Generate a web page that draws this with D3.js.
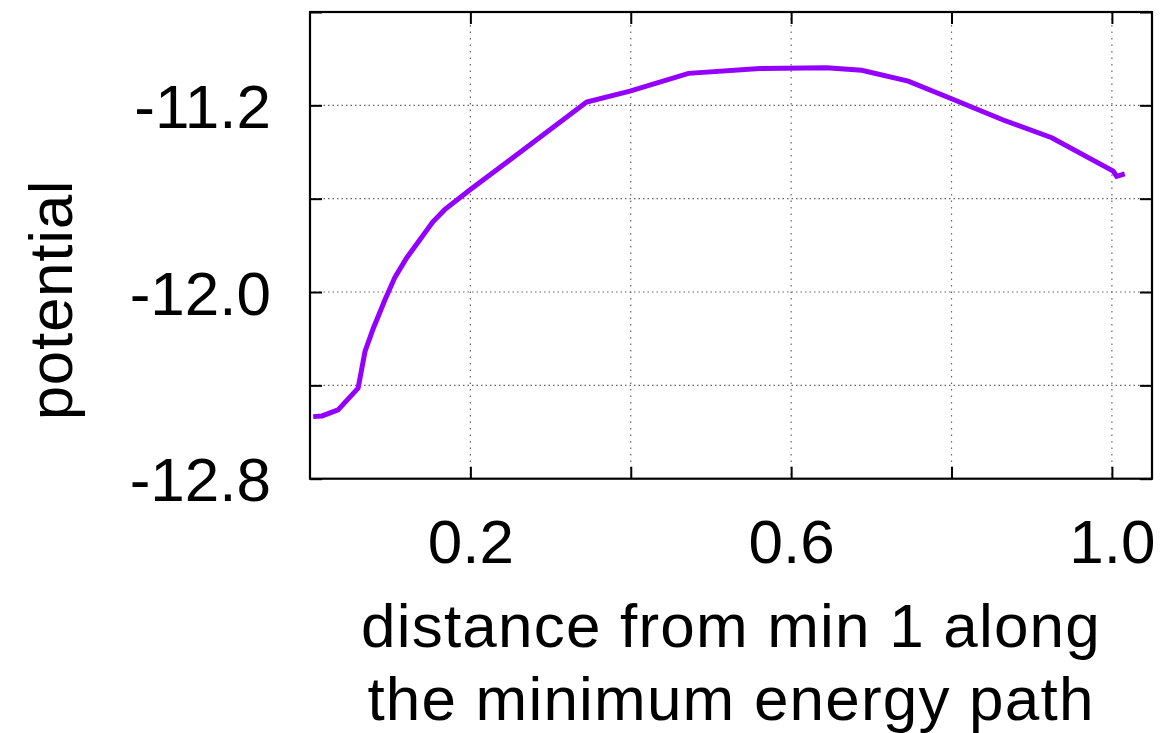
<!DOCTYPE html>
<html>
<head>
<meta charset="utf-8">
<script src="https://cdn.jsdelivr.net/npm/d3@7"></script>
<style>
  html, body { margin: 0; padding: 0; background: #fff; }
  svg { display: block; font-family: "Liberation Sans", Arial, sans-serif; }
</style>
</head>
<body>
<svg id="chart"></svg>
<script>
// distance along the path (x) and potential (y)
var distance = [0.004, 0.015, 0.035, 0.060, 0.0686, 0.079, 0.0935, 0.106, 0.1205, 0.137,
  0.153, 0.168, 0.200, 0.345, 0.399, 0.472, 0.561, 0.644, 0.688, 0.746,
  0.800, 0.8645, 0.925, 1.0017, 1.006, 1.016];
var potential = [-12.534, -12.531, -12.505, -12.412, -12.255, -12.155, -12.033, -11.936, -11.854, -11.776,
  -11.70, -11.647, -11.561, -11.186, -11.139, -11.063, -11.042, -11.039, -11.050, -11.096,
  -11.172, -11.263, -11.339, -11.482, -11.504, -11.494];

var xTicks = [0.2, 0.4, 0.6, 0.8, 1.0];
var xTickLabels = ['0.2', '0.6', '1.0'];
var yTicks = [-12.8, -12.4, -12.0, -11.6, -11.2, -10.8];
var yTickLabels = ['-12.8', '-12.0', '-11.2'];

var width = 1176;
var height = 733;
var plotLeft = 310, plotRight = 1152, plotTop = 12, plotBottom = 478.7;
var fontSize = 62;

var svg = d3.select('#chart')
  .attr('width', width)
  .attr('height', height);

var xScale = d3.scaleLinear().domain([0, 1.05]).range([plotLeft, plotRight]);
var yScale = d3.scaleLinear().domain([-12.8, -10.8]).range([plotBottom, plotTop]);

// dotted grid
svg.append('g').selectAll('line')
  .data(xTicks).enter().append('line')
  .attr('x1', d => xScale(d)).attr('x2', d => xScale(d))
  .attr('y1', plotTop).attr('y2', plotBottom)
  .attr('stroke', '#666').attr('stroke-width', 1.2)
  .attr('stroke-dasharray', '1.5,5');
svg.append('g').selectAll('line')
  .data(yTicks.slice(1, -1)).enter().append('line')
  .attr('x1', plotLeft).attr('x2', plotRight)
  .attr('y1', d => yScale(d)).attr('y2', d => yScale(d))
  .attr('stroke', '#666').attr('stroke-width', 1.2)
  .attr('stroke-dasharray', '1.5,3');

// only every other tick gets a label
function label(list) {
  return d => {
    var s = d3.format('.1f')(d).replace('\u2212', '-');
    return list.indexOf(s) >= 0 ? s : '';
  };
}

// axes with inward ticks
var xAxis = d3.axisBottom(xScale).tickValues(xTicks).tickSizeInner(-12).tickSizeOuter(0)
  .tickPadding(40).tickFormat(label(xTickLabels));
var yAxis = d3.axisLeft(yScale).tickValues(yTicks).tickSizeInner(-12).tickSizeOuter(0)
  .tickPadding(39).tickFormat(label(yTickLabels));

var gx = svg.append('g').attr('transform', `translate(0,${plotBottom})`).call(xAxis);
var gy = svg.append('g').attr('transform', `translate(${plotLeft},0)`).call(yAxis);
svg.append('g').attr('transform', `translate(0,${plotTop})`)
  .call(d3.axisTop(xScale).tickValues(xTicks).tickSizeInner(-12).tickSizeOuter(0).tickFormat(''));
svg.append('g').attr('transform', `translate(${plotRight},0)`)
  .call(d3.axisRight(yScale).tickValues(yTicks).tickSizeInner(-12).tickSizeOuter(0).tickFormat(''));

svg.selectAll('.domain').remove();
svg.selectAll('.tick line').attr('stroke', '#000').attr('stroke-width', 2);
svg.selectAll('.tick text').attr('font-size', fontSize).attr('fill', '#000')
  .attr('font-family', '"Liberation Sans", Arial, sans-serif');
gy.selectAll('.tick text').attr('dy', 22);

// frame
svg.append('rect')
  .attr('x', plotLeft).attr('y', plotTop)
  .attr('width', plotRight - plotLeft).attr('height', plotBottom - plotTop)
  .attr('fill', 'none').attr('stroke', '#000').attr('stroke-width', 2.2);

// curve
var line = d3.line()
  .x((d, i) => xScale(distance[i]))
  .y(d => yScale(d));
svg.append('path')
  .datum(potential)
  .attr('d', line)
  .attr('fill', 'none')
  .attr('stroke', '#9400ff')
  .attr('stroke-width', 5);

// axis titles
svg.append('text')
  .attr('transform', 'translate(72,300) rotate(-90)')
  .attr('text-anchor', 'middle')
  .attr('font-size', fontSize)
  .attr('letter-spacing', 0.7)
  .text('potential');

var title = svg.append('text')
  .attr('text-anchor', 'middle')
  .attr('font-size', fontSize)
  .attr('letter-spacing', 1.2);
title.append('tspan').attr('x', (plotLeft + plotRight) / 2).attr('y', 647).text('distance from min 1 along');
title.append('tspan').attr('x', (plotLeft + plotRight) / 2).attr('y', 720).text('the minimum energy path');
</script>
</body>
</html>
